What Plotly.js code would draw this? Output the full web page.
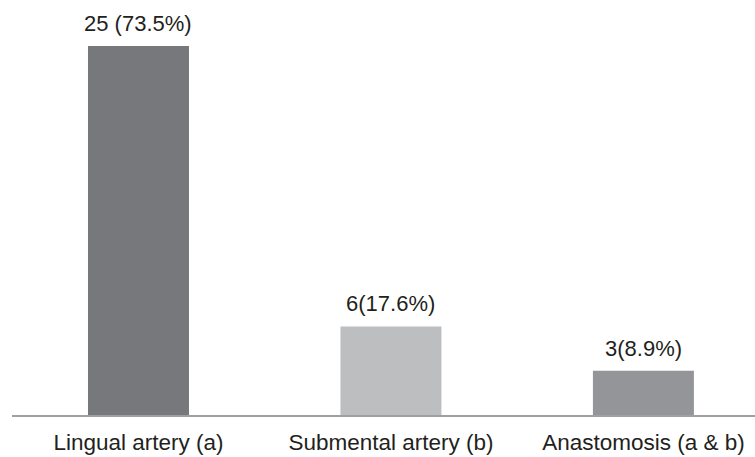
<!DOCTYPE html>
<html>
<head>
<meta charset="utf-8">
<script src="https://cdn.plot.ly/plotly-3.0.1.min.js"></script>
<style>html,body{margin:0;padding:0;background:#fff;}#chart{width:755px;height:457px;}</style>
</head>
<body>
<div id="chart"></div>
<script>
const categories = ["Lingual artery (a)", "Submental artery (b)", "Anastomosis (a & b)"];
const counts = [25, 6, 3];
const labels = ["25 (73.5%)", "6(17.6%)", "3(8.9%)"];
const barColors = ["#77787b", "#bcbec0", "#939598"];

const labelFont = {family: "Liberation Sans, Arial, sans-serif", size: 22, color: "#231f20"};
const tickFont = {family: "Liberation Sans, Arial, sans-serif", size: 22.5, color: "#231f20"};

const trace = {
  type: "bar",
  x: categories,
  y: counts,
  width: 0.4,
  marker: {color: barColors, line: {width: 0}},
  hoverinfo: "none"
};

const annotations = categories.map((c, i) => ({
  x: c, y: counts[i], text: labels[i], showarrow: false,
  xref: "x", yref: "y", yanchor: "bottom", yshift: 8, font: labelFont
}));

const layout = {
  width: 755, height: 457,
  margin: {l: 12, r: 0, t: 0, b: 42, pad: 0},
  paper_bgcolor: "#ffffff", plot_bgcolor: "#ffffff",
  showlegend: false,
  font: labelFont,
  xaxis: {
    type: "category",
    range: [-0.501, 2.442],
    showline: true, linecolor: "#a0a0a0", linewidth: 1.5,
    ticks: "outside", ticklen: 6, tickcolor: "rgba(0,0,0,0)",
    showgrid: false, zeroline: false,
    tickfont: tickFont, fixedrange: true
  },
  yaxis: {
    range: [0, 28.12],
    visible: false, showgrid: false, zeroline: false, fixedrange: true
  },
  annotations: annotations
};

Plotly.newPlot("chart", [trace], layout, {displayModeBar: false, staticPlot: true});
</script>
</body>
</html>
